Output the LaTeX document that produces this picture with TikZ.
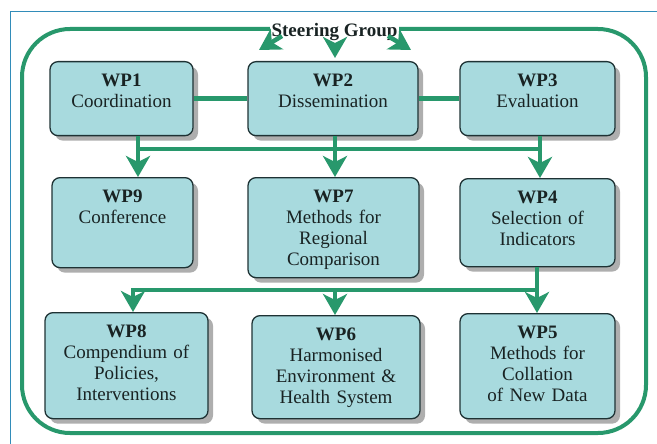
\documentclass[tikz,border=0pt]{standalone}
\usepackage{fontspec}
\setmainfont{Liberation Serif}
\usetikzlibrary{arrows.meta,shadows,positioning}
\definecolor{wpgreen}{RGB}{40,152,108}
\definecolor{wpfill}{RGB}{168,218,222}
\definecolor{wpline}{RGB}{30,50,52}
\definecolor{wptext}{RGB}{25,35,35}
\definecolor{framecol}{RGB}{50,140,185}
\tikzset{
        wp/.style={draw=wpline, fill=wpfill, line width=1.3pt, rounded corners=8pt,
            align=center, inner xsep=2pt, inner ysep=0pt, text height=25pt, anchor=north,
            text=wptext, font=\rmfamily\fontsize{19}{21}\selectfont,
            drop shadow={shadow xshift=5pt, shadow yshift=-5pt, fill=black!70, opacity=.45}}, % work package box
        link/.style={draw=wpgreen, line width=4.5pt}, % plain green bar
        flow/.style={link, -{Stealth[length=21pt, width=24pt, inset=6pt]}}, % green arrow
    }

\begin{document}
\begin{tikzpicture}[x=1pt, y=-1pt]
    \useasboundingbox (0,0) rectangle (657,444);
    \draw[framecol, line width=1pt] (10,444) |- (657,12);
    \draw[wpgreen, line width=4pt, rounded corners=48pt] (22,29) rectangle (646,433);
    \node[fill=white, inner sep=2pt, text=wptext, font=\rmfamily\bfseries\fontsize{19}{21}\selectfont] (sg) at (334.5,32) {Steering Group};

    % top row
    \node[wp, text width=139pt, text depth=49pt] (wp1) at (121.5,61) {\textbf{WP1}\\Coordination};
    \node[wp, text width=166pt, text depth=49pt] (wp2) at (333,61) {\textbf{WP2}\\Dissemination};
    \node[wp, text width=151pt, text depth=49pt] (wp3) at (537.5,61) {\textbf{WP3}\\Evaluation};
    % middle row
    \node[wp, text width=137pt, text depth=65pt] (wp9) at (122.5,177) {\textbf{WP9}\\Conference};
    \node[wp, text width=167pt, text depth=75pt] (wp7) at (333.5,177) {\textbf{WP7}\\Methods for\\Regional\\Comparison};
    \node[wp, text width=151pt, text depth=63pt] (wp4) at (537.5,178) {\textbf{WP4}\\Selection of\\Indicators};
    % bottom row
    \node[wp, text width=159pt, text depth=81pt] (wp8) at (126.5,312) {\textbf{WP8}\\Compendium of\\Policies,\\Interventions};
    \node[wp, text width=164pt, text depth=78pt] (wp6) at (336,315) {\textbf{WP6}\\Harmonised\\Environment \&\\Health System};
    \node[wp, text width=151pt, text depth=80pt] (wp5) at (537.5,313) {\textbf{WP5}\\Methods for\\Collation\\of New Data};

    % steering group arrows
    \coordinate (sgl) at (259,50);
    \coordinate (sgm) at (335,58);
    \coordinate (sgr) at (411,50);
    \draw[flow] (282,36) -- (sgl);
    \draw[flow] (sg.south -| sgm) -- (sgm);
    \draw[flow] (388,36) -- (sgr);

    \draw[link] (wp1.east) -- (wp2.west);
    \draw[link] (wp2.east) -- (wp3.west);

    % first bus
    \coordinate (b1w) at (138,149);
    \coordinate (b1m) at (335,149);
    \coordinate (b1e) at (540,149);
    \draw[link, line cap=rect] (b1w) -- (b1e);
    \draw[flow] (wp1.south -| b1w) -- (wp9.north -| b1w);
    \draw[flow] (wp2.south -| b1m) -- (wp7.north -| b1m);
    \draw[flow] (wp3.south -| b1e) -- (wp4.north -| b1e);

    % second bus
    \coordinate (b2w) at (133,290);
    \coordinate (b2m) at (335,290);
    \coordinate (b2e) at (537,290);
    \draw[link, line cap=rect] (b2w) -- (b2e);
    \draw[flow] (wp4.south -| b2e) -- (wp5.north -| b2e);
    \draw[flow] (b2w) -- (wp8.north -| b2w);
    \draw[flow] (b2m) -- (wp6.north -| b2m);
\end{tikzpicture}
\end{document}
